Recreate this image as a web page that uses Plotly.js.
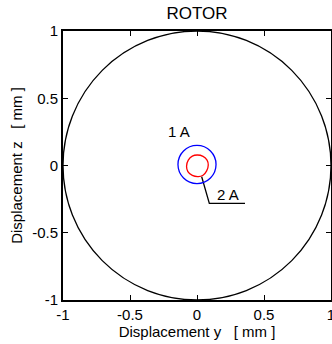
<!DOCTYPE html>
<html>
<head>
<meta charset="utf-8">
<script src="https://cdn.plot.ly/plotly-3.0.1.min.js"></script>
<style>html,body{margin:0;padding:0;background:#fff;}#chart{width:332px;height:344px;}</style>
</head>
<body>
<div id="chart"></div>
<script>
// Circular orbits: centre (y, z) and radius in mm
const circleCenterY = [0, 0];
const circleCenterZ = [0, 0.007];
const circleRadius = [1.0, 0.142];

// 2 A orbit (slightly wobbly)
const orbit2Y = [0.002, 0.045, 0.075, 0.084, 0.072, 0.045, 0.010, -0.035, -0.068, -0.078, -0.065, -0.035, 0.002];
const orbit2Z = [0.078, 0.068, 0.040, 0.004, -0.040, -0.072, -0.083, -0.074, -0.045, -0.005, 0.040, 0.070, 0.078];

// Leader line for "2 A"
const leaderY = [0.035, 0.092, 0.358];
const leaderZ = [-0.084, -0.282, -0.282];

// Labels
const labelText = ['1 A', '2 A'];
const labelY = [-0.134, 0.234];
const labelZ = [0.25, -0.213];

const tickVals = [-1, -0.5, 0, 0.5, 1];
const tickText = ['-1', '-0.5', '0', '0.5', '1'];

const circleColors = ['#000000', '#0000ff'];

const shapes = circleRadius.map((r, i) => ({
  type: 'circle', xref: 'x', yref: 'y',
  x0: circleCenterY[i] - r, x1: circleCenterY[i] + r,
  y0: circleCenterZ[i] - r, y1: circleCenterZ[i] + r,
  line: {color: circleColors[i], width: 1.3},
  layer: 'above'
}));

const traces = [
  {x: orbit2Y, y: orbit2Z, mode: 'lines', line: {color: '#ff0000', width: 1.3, shape: 'spline'}, hoverinfo: 'skip'},
  {x: leaderY, y: leaderZ, mode: 'lines', line: {color: '#000000', width: 1.3}, hoverinfo: 'skip'}
];

const annotations = labelText.map((t, i) => ({
  x: labelY[i], y: labelZ[i], xref: 'x', yref: 'y', text: t, showarrow: false,
  font: {size: 15, color: '#000'}, xanchor: 'center', yanchor: 'middle'
}));

const axisCommon = {
  range: [-1, 1], tickvals: tickVals, ticktext: tickText,
  ticks: 'inside', ticklen: 5, tickwidth: 1, tickcolor: '#000',
  showline: true, linecolor: '#000', linewidth: 2, mirror: 'ticks',
  showgrid: false, zeroline: false, fixedrange: true,
  ticklabeloverflow: 'allow',
  tickfont: {size: 15, color: '#000'}
};

const layout = {
  width: 332, height: 344,
  margin: {l: 63, r: 1, t: 31, b: 44, pad: 0},
  paper_bgcolor: '#fff', plot_bgcolor: '#fff',
  font: {family: 'Liberation Sans, Arial, sans-serif', size: 15, color: '#000'},
  showlegend: false,
  title: {text: 'ROTOR', font: {size: 17, color: '#000'}, x: 0.5935, xref: 'container', xanchor: 'center', y: 0.962, yref: 'container', yanchor: 'middle'},
  xaxis: Object.assign({}, axisCommon, {title: {text: 'Displacement y\u00a0\u00a0\u00a0[ mm ]', font: {size: 15}, standoff: 2}}),
  yaxis: Object.assign({}, axisCommon, {title: {text: 'Displacement z\u00a0\u00a0\u00a0[ mm ]', font: {size: 15}, standoff: 6}}),
  shapes: shapes,
  annotations: annotations
};

Plotly.newPlot('chart', traces, layout, {staticPlot: true, displayModeBar: false});
</script>
</body>
</html>
